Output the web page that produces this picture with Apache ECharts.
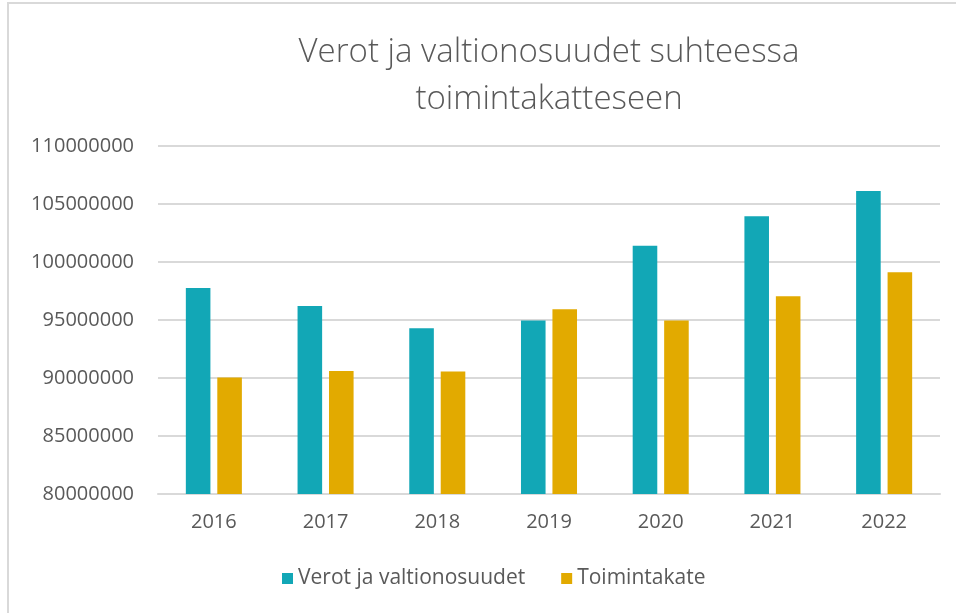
<!DOCTYPE html>
<html>
<head>
<meta charset="utf-8">
<script src="https://cdn.jsdelivr.net/npm/echarts@6/dist/echarts.min.js"></script>
<style>
  html, body { margin: 0; padding: 0; background: #fff; }
  #frame { position: absolute; left: 7px; top: 2px; width: 960px; height: 620px;
           border-left: 2px solid #d9d9d9; border-top: 2px solid #d9d9d9; }
  #chart { position: absolute; left: 0; top: 0; width: 956px; height: 613px; }
</style>
</head>
<body>
<div id="frame"></div>
<div id="chart"></div>
<script>
// data
const years = ['2016', '2017', '2018', '2019', '2020', '2021', '2022']
const verot = [97760000, 96200000, 94280000, 94950000, 101400000, 103940000, 106120000]
const toimintakate = [90050000, 90600000, 90550000, 95920000, 94950000, 97040000, 99110000]
const seriesNames = ['Verot ja valtionosuudet', 'Toimintakate']

const font = 'Open Sans'
const chart = echarts.init(document.getElementById('chart'))
chart.setOption({
  animation: false,
  color: ['#12a7b6', '#e2aa00'],
  title: {
    text: 'Verot ja valtionosuudet suhteessa\ntoimintakatteseen',
    left: 544,
    top: 24,
    textAlign: 'center',
    textStyle: {
      fontFamily: font,
      fontWeight: 300,
      fontSize: 33,
      lineHeight: 47,
      color: '#595959'
    }
  },
  legend: {
    data: seriesNames,
    bottom: 19,
    left: 277,
    itemWidth: 11,
    itemHeight: 11,
    itemGap: 36,
    icon: 'rect',
    textStyle: { fontFamily: font, fontSize: 21, color: '#595959' }
  },
  grid: {
    left: 158,
    right: 16,
    top: 146,
    bottom: 119
  },
  xAxis: {
    type: 'category',
    data: years,
    axisTick: { show: false },
    axisLine: { lineStyle: { color: '#d9d9d9', width: 2 } },
    axisLabel: { fontFamily: font, fontSize: 20, color: '#595959', margin: 18 }
  },
  yAxis: {
    type: 'value',
    min: 80000000,
    max: 110000000,
    interval: 5000000,
    axisLine: { show: false },
    axisTick: { show: false },
    axisLabel: {
      fontFamily: font, fontSize: 20, color: '#595959', margin: 24,
      formatter: v => String(v)
    },
    splitLine: { lineStyle: { color: '#d9d9d9', width: 2 } }
  },
  series: [{
    name: seriesNames[0],
    type: 'bar',
    data: verot,
    barWidth: '22%',
    barGap: '28%'
  }, {
    name: seriesNames[1],
    type: 'bar',
    data: toimintakate,
    barWidth: '22%'
  }]
})
</script>
</body>
</html>
